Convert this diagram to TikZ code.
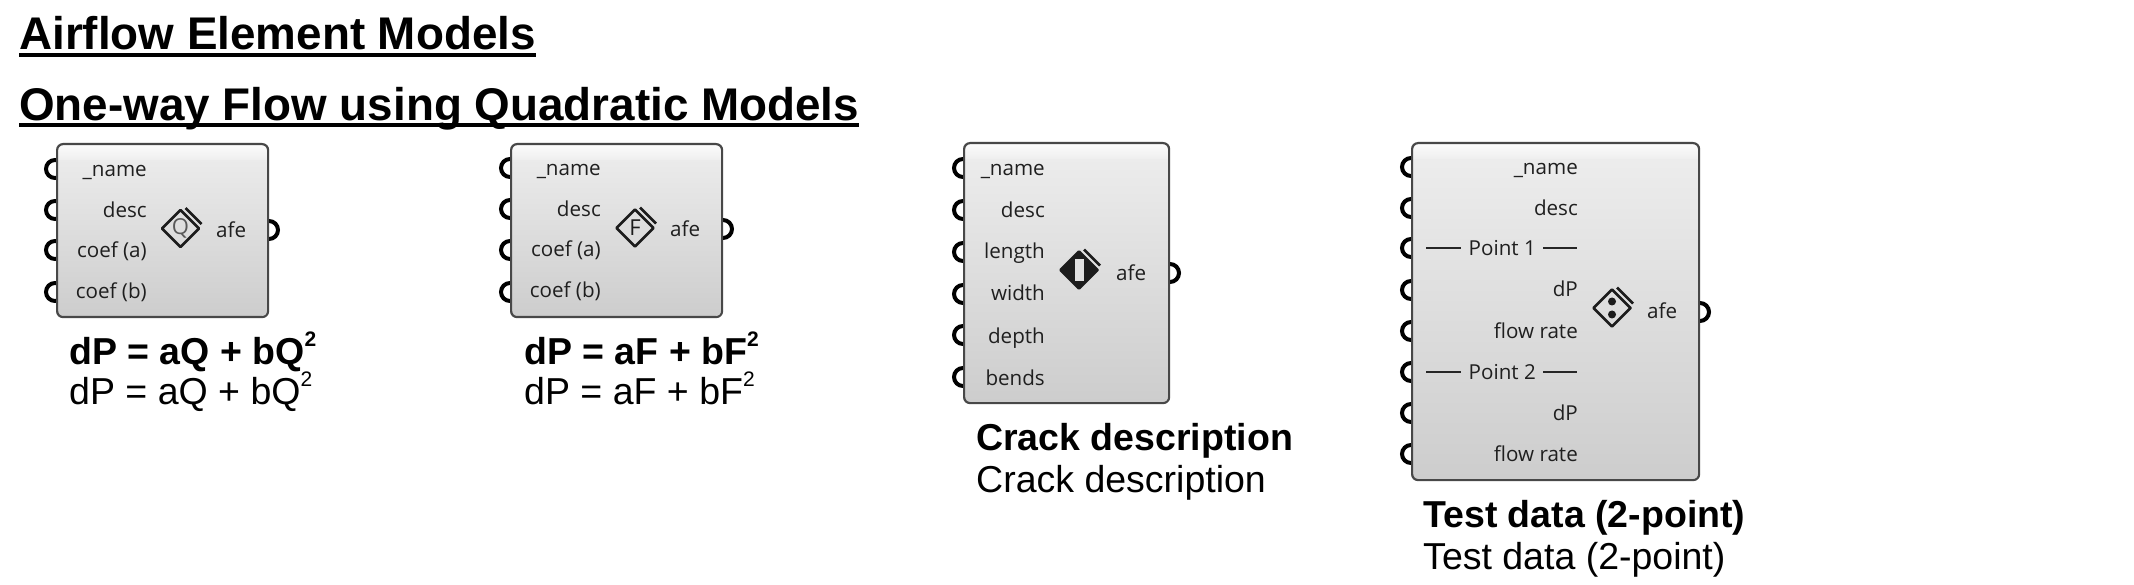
\documentclass[tikz,border=0pt]{standalone}
\usepackage{fontspec}
\setmainfont{Liberation Sans}
\newfontfamily\uifont{Open Sans}
\usetikzlibrary{calc}
\definecolor{edgegrey}{HTML}{484848}
\definecolor{bodytop}{HTML}{EEEEEE}
\definecolor{bodybot}{HTML}{CDCDCD}
\definecolor{icondark}{HTML}{1C1C1C}
\tikzset{
  x=1pt,y=-1pt,
  titletxt/.style={font=\fontsize{45.8}{52}\selectfont\bfseries,anchor=base west,inner sep=0pt},
  capbold/.style={font=\fontsize{37.5}{42}\selectfont\bfseries,anchor=base west,inner sep=0pt},
  capreg/.style={font=\fontsize{37.5}{42}\selectfont,anchor=base west,inner sep=0pt},
  plabel/.style={font=\uifont\fontsize{20.6}{24}\selectfont,text=black!88,anchor=base east,inner sep=0pt},
  olabel/.style={font=\uifont\fontsize{20.6}{24}\selectfont,text=black!88,anchor=base west,inner sep=0pt},
  portring/.style={circle,draw=black,fill=white,line width=4pt,minimum size=18pt,inner sep=0pt},
  ulinestyle/.style={line width=3.5pt,black},
  iconedge/.style={draw=icondark,line width=2.8pt,line join=round},
  iconstrip/.style={draw=icondark,line width=2.8pt},
  iconletter/.style={font=\uifont\fontsize{22}{24}\selectfont,inner sep=0pt},
  ruleline/.style={draw=black!85,line width=2pt},
}
\newcommand{\compbox}[5]{%
  \begin{scope}
    \clip[rounded corners=6pt] (#2,#3) rectangle (#4,#5);
    \shade[top color=bodytop,bottom color=bodybot] (#2,#3) rectangle (#4,#5);
    \shade[top color=white!92!bodytop,bottom color=bodytop] (#2,#3) rectangle (#4,#3+17);
  \end{scope}
  \node[draw=edgegrey,line width=2.2pt,rounded corners=6pt,inner sep=0pt,
        minimum width=#4pt-#2pt,minimum height=#5pt-#3pt,anchor=north west] (#1) at (#2,#3) {};
}
\newcommand{\plainicon}[3]{%
  \node[inner sep=0pt,minimum size=0pt] (#1) at (#2,#3) {};
  \draw[iconedge] ($(#1)+(0,-18.5)$) -- ($(#1)+(18.5,0)$) -- ($(#1)+(0,18.5)$) -- ($(#1)+(-18.5,0)$) -- cycle;
  \draw[iconstrip] ($(#1)+(5,-20.5)$) -- ($(#1)+(21,-4.5)$);
}
\newcommand{\squared}[2]{#1\raisebox{0.46em}{\fontsize{#2}{#2}\selectfont 2}}
\begin{document}
\begin{tikzpicture}
\useasboundingbox (0,0) rectangle (2134,585);

% titles
\node[titletxt] (t1) at (19,50) {Airflow Element Models};
\node[titletxt] (t2) at (19,121) {One-way Flow using Quadratic Models};
\draw[ulinestyle] ($(t1.base west)+(0,5)$) -- ($(t1.base east)+(0,5)$);
\draw[ulinestyle] ($(t2.base west)+(0,4)$) -- ($(t2.base east)+(0,4)$);

% ---------- component 1
\foreach \n/\y in {1/169,2/210,3/250,4/292}{\node[portring] (aP\n) at (55,\y) {};}
\node[portring] (aO) at (269,230) {};
\compbox{a}{56}{143}{267}{316}
\node[plabel] (aL1) at (147,177) {\_name};
\node[plabel] (aL2) at (147,218) {desc};
\node[plabel] (aL3) at (147,258) {coef (a)};
\node[plabel] (aL4) at (147,299) {coef (b)};
\node[olabel] (aLo) at (216,238) {afe};
\plainicon{aI}{180.5}{228.5}
\node[iconletter,text=black!65] (aIq) at (180.5,228.5) {Q};
\node[capbold] (aC1) at (69,364) {dP = aQ + b\squared{Q}{21}};
\node[capreg] (aC2) at (69,404) {dP = aQ + b\squared{Q}{21}};

% ---------- component 2
\foreach \n/\y in {1/168,2/209,3/250,4/292}{\node[portring] (bP\n) at (510,\y) {};}
\node[portring] (bO) at (723,229) {};
\compbox{b}{510}{143}{721}{316}
\node[plabel] (bL1) at (601,176) {\_name};
\node[plabel] (bL2) at (601,217) {desc};
\node[plabel] (bL3) at (601,257) {coef (a)};
\node[plabel] (bL4) at (601,298) {coef (b)};
\node[olabel] (bLo) at (670,237) {afe};
\plainicon{bI}{635}{228}
\node[iconletter,text=icondark] (bIq) at (635,228) {F};
\node[capbold] (bC1) at (524,364) {dP = aF + b\squared{F}{21}};
\node[capreg] (bC2) at (524,404) {dP = aF + b\squared{F}{21}};

% ---------- component 3
\foreach \n/\y in {1/168,2/210,3/252,4/294,5/335,6/377}{\node[portring] (cP\n) at (963,\y) {};}
\node[portring] (cO) at (1170,273) {};
\compbox{c}{963}{142}{1168}{402}
\node[plabel] (cL1) at (1045,176) {\_name};
\node[plabel] (cL2) at (1045,218) {desc};
\node[plabel] (cL3) at (1045,259) {length};
\node[plabel] (cL4) at (1045,301) {width};
\node[plabel] (cL5) at (1045,343) {depth};
\node[plabel] (cL6) at (1045,385) {bends};
\node[olabel] (cLo) at (1116,281) {afe};
\plainicon{cI}{1079}{270}
\fill[icondark] ($(cI)+(0,-19)$) -- ($(cI)+(19,0)$) -- ($(cI)+(0,19)$) -- ($(cI)+(-19,0)$) -- cycle;
\fill[black!12] ($(cI)+(-4.5,-11)$) rectangle ($(cI)+(4.5,11)$);
\node[capbold] (cC1) at (976,450) {Crack description};
\node[capreg] (cC2) at (976,492) {Crack description};

% ---------- component 4
\foreach \n/\y in {1/167,2/208,3/248,4/290,5/331,6/372,7/413,8/454}{\node[portring] (dP\n) at (1411,\y) {};}
\node[portring] (dO) at (1700,312) {};
\compbox{d}{1411}{142}{1698}{479}
\node[plabel] (dL1) at (1578,175) {\_name};
\node[plabel] (dL2) at (1578,216) {desc};
\node[plabel] (dL3) at (1536,256) {Point 1};
\node[plabel] (dL4) at (1578,297) {dP};
\node[plabel] (dL5) at (1578,338) {flow rate};
\node[plabel] (dL6) at (1536,379) {Point 2};
\node[plabel] (dL7) at (1578,420) {dP};
\node[plabel] (dL8) at (1578,461) {flow rate};
\node[olabel] (dLo) at (1647,319) {afe};
\foreach \pt/\yy in {dL3/248.5,dL6/372}{
  \coordinate (l1) at (1426,\yy); \coordinate (l2) at (1461,\yy);
  \coordinate (l3) at (1543,\yy); \coordinate (l4) at (1577,\yy);
  \draw[ruleline] (l1) -- (l2);
  \draw[ruleline] (l3) -- (l4);
}
\plainicon{dI}{1612}{308}
\fill[icondark] ($(dI)+(0,-6.5)$) circle[radius=4];
\fill[icondark] ($(dI)+(0,6.5)$) circle[radius=4];
\node[capbold] (dC1) at (1423,527) {Test data (2-point)};
\node[capreg] (dC2) at (1423,569) {Test data (2-point)};
\end{tikzpicture}
\end{document}
